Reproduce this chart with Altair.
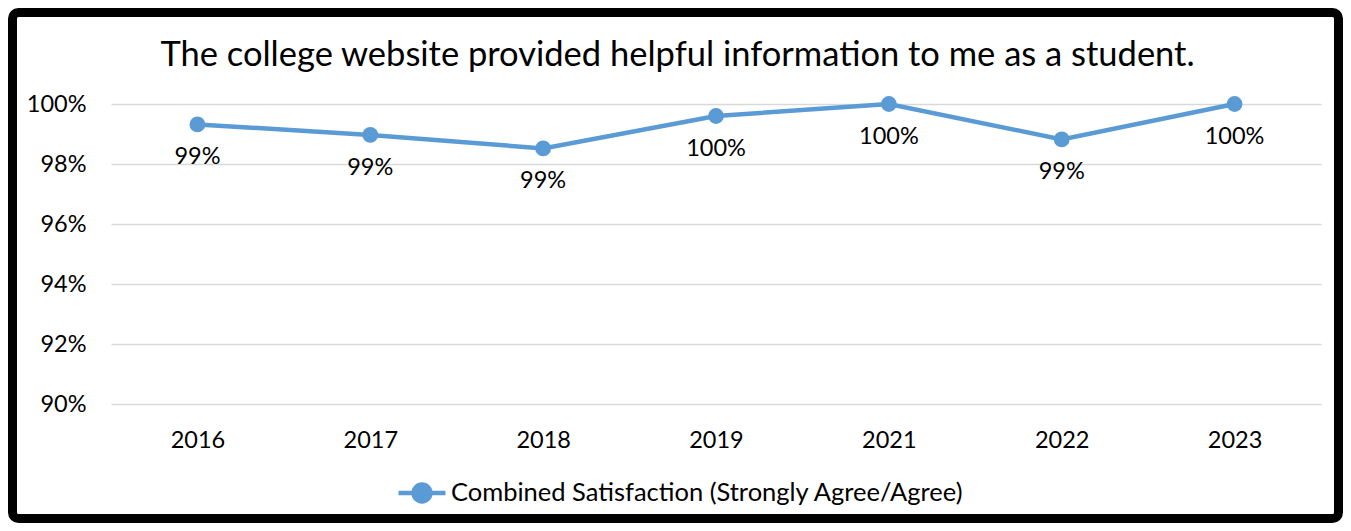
import altair as alt
import pandas as pd

years = ["2016", "2017", "2018", "2019", "2021", "2022", "2023"]
values = [0.9932, 0.9897, 0.9852, 0.9960, 1.0, 0.9882, 1.0]
series_name = "Combined Satisfaction (Strongly Agree/Agree)"
y_ticks = [0.90, 0.92, 0.94, 0.96, 0.98, 1.00]
title_text = "The college website provided helpful information to me as a student."

df = pd.DataFrame({"year": years, "value": values, "series": [series_name] * len(years)})

FONT = "Lato"
BLUE = "#5B9BD5"
W, H = 1210, 300
FS = 23.5

x_enc = alt.X("year:O", sort=years, title=None,
              scale=alt.Scale(type="point", padding=0.5),
              axis=alt.Axis(labelAngle=0, labelFontSize=FS, labelFont=FONT, labelColor="#000000",
                            labelPadding=24, domain=False, ticks=False, grid=False))
y_enc = alt.Y("value:Q", title=None,
              scale=alt.Scale(domain=[0.90, 1.00], nice=False, zero=False),
              axis=alt.Axis(values=y_ticks, format=".0%", labelFontSize=FS, labelFont=FONT,
                            labelColor="#000000", labelPadding=25, domain=False, ticks=False,
                            grid=True, gridColor="#D9D9D9", gridWidth=1.5))

color_enc = alt.Color("series:N", title=None,
                      scale=alt.Scale(range=[BLUE]),
                      legend=alt.Legend(orient="none", legendX=285, legendY=363,
                                        labelFontSize=25.5, labelFont=FONT, labelColor="#000000",
                                        labelLimit=0,
                                        symbolType="M-1,0H1M-0.36,0A0.36,0.36 0 1,1 0.36,0A0.36,0.36 0 1,1 -0.36,0Z",
                                        symbolSize=2200, symbolStrokeWidth=4.5,
                                        symbolFillColor=BLUE, symbolStrokeColor=BLUE,
                                        labelOffset=3))

base = alt.Chart(df)

line = base.mark_line(strokeWidth=4.5).encode(x=x_enc, y=y_enc, color=color_enc)
pts = base.mark_point(filled=True, size=250, opacity=1).encode(
    x=alt.X("year:O", sort=years), y="value:Q",
    color=alt.Color("series:N", legend=None, scale=alt.Scale(range=[BLUE])))
labels = base.mark_text(fontSize=FS, font=FONT, color="#000000", dy=33, baseline="middle").encode(
    x=alt.X("year:O", sort=years), y="value:Q", text=alt.Text("value:Q", format=".0%"))

title_mark = alt.Chart(pd.DataFrame({"t": [title_text]})).mark_text(
    fontSize=34.5, font=FONT, color="#000000", baseline="middle", align="center").encode(
    text="t:N", x=alt.value(566.5), y=alt.value(-48))

frame = alt.Chart(pd.DataFrame({"a": [0]})).mark_rect(
    fill=None, stroke="#000000", strokeWidth=9, cornerRadius=6).encode(
    x=alt.value(-98.5), x2=alt.value(1227.5), y=alt.value(-91.5), y2=alt.value(414.5))

chart = alt.layer(frame, line, pts, labels, title_mark).properties(
    width=W, height=H,
    autosize=alt.AutoSizeParams(type="none"),
    padding={"left": 103, "top": 96, "right": 22, "bottom": 119},
    background="white",
).configure_view(stroke=None)

chart.save("out.html", embed_options={"renderer": "svg", "actions": False})
